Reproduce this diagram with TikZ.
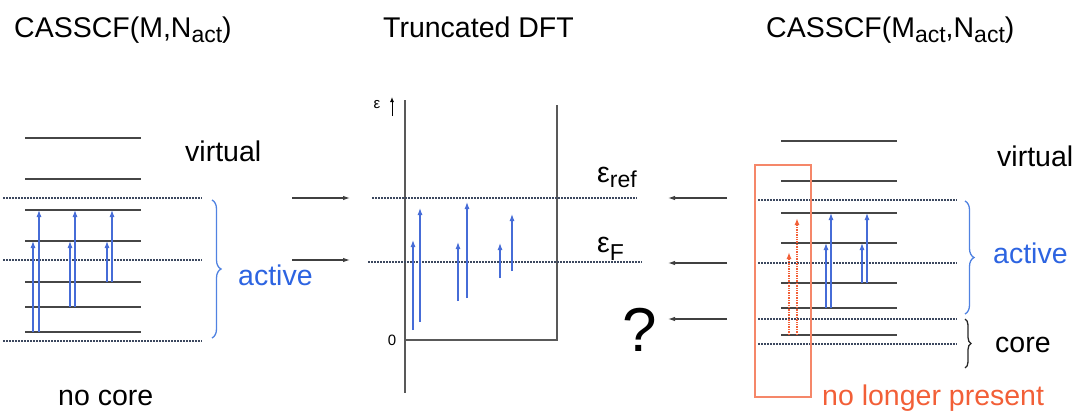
\documentclass[tikz,border=0pt]{standalone}
\usepackage{fontspec}
\setmainfont{Liberation Sans}
\usetikzlibrary{arrows.meta,decorations.pathreplacing}
\definecolor{levc}{RGB}{70,70,70}
\definecolor{dotc}{RGB}{60,72,95}
\definecolor{excc}{RGB}{70,108,215}
\definecolor{actc}{RGB}{45,100,225}
\definecolor{bracec}{RGB}{80,130,225}
\definecolor{redc}{RGB}{242,95,55}
\definecolor{boxc}{RGB}{245,135,105}
\newcommand{\mysub}[1]{\raisebox{-5pt}{\fontsize{23}{23}\selectfont #1}}
\begin{document}
\begin{tikzpicture}[x=1pt,y=-1pt,
  level/.style={levc, line width=1.7pt},
  dotline/.style={dotc, line width=1.1pt, dash pattern=on 1.6pt off 1.4pt},
  excite/.style={excc, line width=1.1pt, -{Latex[length=7pt,width=5pt]}},
  redexc/.style={redc, line width=1.4pt, dash pattern=on 1pt off 0.7pt, -{Latex[length=7pt,width=5pt]}},
  conn/.style={black!75, line width=1.1pt, -{Latex[length=7pt,width=4.5pt]}},
  axisline/.style={black!65, line width=1.6pt},
  lbl/.style={font=\fontsize{28.5}{34}\selectfont, inner sep=0pt, anchor=base west},
  small/.style={font=\fontsize{15}{17}\selectfont, inner sep=0pt},
  bluebrace/.style={bracec, line width=1.3pt, decorate, decoration={brace, amplitude=9pt}},
  blackbrace/.style={black!85, line width=1.3pt, decorate, decoration={brace, amplitude=6pt}}]
\useasboundingbox (0,0) rectangle (1073,418);

% ---------- titles ----------
\node[lbl] (t1) at (14,37) {CASSCF(M,N\mysub{act})};
\node[lbl] (t2) at (383,37) {Truncated DFT};
\node[lbl] (t3) at (766,37) {CASSCF(M\mysub{act},N\mysub{act})};

% ---------- left panel ----------
\foreach \y in {138,179,210,241,282,307,332} \draw[level] (25,\y) -- (141,\y);
\foreach \y in {198,260,341} \draw[dotline] (3,\y) -- (202,\y);
\foreach \x/\a/\b in {33/332/241, 39/332/210, 70/307/241, 75/307/210, 107/282/241, 112/282/210}
  \draw[excite] (\x,\a) -- (\x,\b);
\draw[bluebrace] (212,200) -- (212,338);
\node[lbl] (lvirt) at (185,161) {virtual};
\node[lbl, text=actc] (lact) at (238,285) {active};
\node[lbl] (lnocore) at (58,405) {no core};

% ---------- middle panel ----------
\draw[axisline] (405,100) -- (405,393);
\draw[axisline] (405,340) -- (557,340) -- (557,105);
\draw[dotline] (372,198) -- (637,198);
\draw[dotline] (368,262) -- (642,262);
\foreach \x/\a/\b in {413/330/240, 420/322/208, 458/301/242, 467/298/202, 500/278/243, 512/271/214}
  \draw[excite] (\x,\a) -- (\x,\b);
\node[small] (eps) at (377,105) {ε};
\coordinate (epsA) at (392,116);
\coordinate (epsB) at (392,97);
\draw[black, line width=1pt, -{Latex[length=5pt,width=4pt]}] (epsA) -- (epsB);
\node[small] (zero) at (392,340) {0};

\node[lbl] (eref) at (597,182) {ε\mysub{ref}};
\node[lbl] (eF) at (597,252) {ε\raisebox{-3pt}{\mysub{F}}};
\node[font=\fontsize{62}{62}\selectfont, inner sep=0pt, anchor=base west] (q) at (622,351) {?};

% connectors
\coordinate (la1) at (292,198); \coordinate (lb1) at (350,198);
\coordinate (la2) at (292,260); \coordinate (lb2) at (350,260);
\draw[conn] (la1) -- (lb1);
\draw[conn] (la2) -- (lb2);
\coordinate (ra1) at (727,198); \coordinate (rb1) at (668,198);
\coordinate (ra2) at (727,263); \coordinate (rb2) at (668,263);
\coordinate (ra3) at (727,319); \coordinate (rb3) at (668,319);
\draw[conn] (ra1) -- (rb1);
\draw[conn] (ra2) -- (rb2);
\draw[conn] (ra3) -- (rb3);

% ---------- right panel ----------
\foreach \y in {141,181,213,243,283,308,335} \draw[level] (781,\y) -- (897,\y);
\foreach \y in {200,263,319,344} \draw[dotline] (758,\y) -- (957,\y);
\foreach \x/\a/\b in {826/308/243, 831/308/213, 862/283/243, 867/283/213}
  \draw[excite] (\x,\a) -- (\x,\b);
\draw[redexc] (789,335) -- (789,252);
\draw[redexc] (797,335) -- (797,218);
\draw[boxc, line width=1.6pt] (755,165) rectangle (811,397);
\draw[bluebrace] (965,201) -- (965,314);
\draw[blackbrace] (965,319) -- (965,368);
\node[lbl] (rvirt) at (997,166) {virtual};
\node[lbl, text=actc] (ract) at (993,263) {active};
\node[lbl] (rcore) at (995,352) {core};
\node[lbl, text=redc] (rnolong) at (822,405) {no longer present};
\end{tikzpicture}
\end{document}
